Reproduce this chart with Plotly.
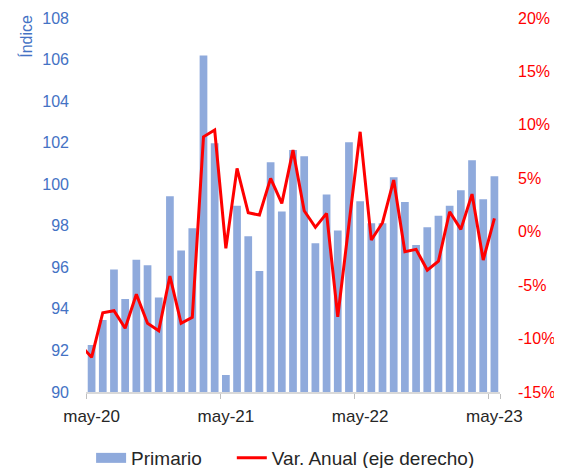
import plotly.graph_objects as go

# Meses (eje de categorías), may-20 a may-23
meses_abbr = ["ene", "feb", "mar", "abr", "may", "jun", "jul", "ago", "sep", "oct", "nov", "dic"]
meses = []
for anio in [20, 21, 22, 23]:
    for m in meses_abbr:
        meses.append(f"{m}-{anio}")
meses = meses[meses.index("may-20"):meses.index("may-23") + 1]

# Índice Primario (eje izquierdo)
primario = [
    92.26, 93.46, 95.90, 94.47, 96.36, 96.10, 94.55, 99.42, 96.81, 97.88,
    106.20, 101.97, 90.82, 98.96, 97.50, 95.82, 101.06, 98.69, 101.65, 101.35,
    97.16, 99.50, 97.77, 102.02, 99.18, 98.12, 98.12, 100.34, 99.15, 97.07,
    97.93, 98.48, 98.96, 99.71, 101.15, 99.28, 100.38,
]

# Variación anual en % (eje derecho); incluye abr-20, que queda fuera del rango
var_meses = ["abr-20"] + meses
var_anual = [
    -10.6,
    -11.75, -7.58, -7.39, -9.04, -5.86, -8.57, -9.26, -4.15, -8.57, -8.01,
    8.88, 9.51, -1.56, 5.93, 1.77, 1.56, 4.99, 2.65, 7.64, 1.96,
    0.41, 1.72, -7.96, 0.70, 9.35, -0.78, 0.84, 4.83, -1.87, -1.65,
    -3.59, -2.75, 1.87, 0.22, 3.52, -2.65, 1.25,
]

ticks_x = ["may-20", "may-21", "may-22", "may-23"]
ticks_izq = [90, 92, 94, 96, 98, 100, 102, 104, 106, 108]
ticks_der = [-15, -10, -5, 0, 5, 10, 15, 20]

azul = "#8FAADC"
rojo = "#FF0000"
fuente = "Liberation Sans"

fig = go.Figure()

fig.add_trace(go.Bar(
    x=meses,
    y=primario,
    name="Primario",
    marker=dict(color=azul, line=dict(width=0)),
    showlegend=False,
))

fig.add_trace(go.Scatter(
    x=var_meses,
    y=var_anual,
    name="Var. Anual (eje derecho)",
    mode="lines",
    line=dict(color=rojo, width=3),
    yaxis="y2",
    showlegend=False,
))

# entradas de leyenda (rectángulo ancho para las barras, como en Excel)
fig.add_trace(go.Scatter(
    x=[None], y=[None], mode="lines", name="Primario",
    line=dict(color=azul, width=10),
    legend="legend",
))
fig.add_trace(go.Scatter(
    x=[None], y=[None], mode="lines", name="Var. Anual (eje derecho)",
    line=dict(color=rojo, width=3),
    legend="legend2",
))

fig.add_annotation(
    text="Índice",
    textangle=-90,
    xref="paper", yref="paper",
    x=-0.147, y=1.013,
    xanchor="center", yanchor="top",
    showarrow=False,
    font=dict(size=16, color="#4472C4", family=fuente),
)

leyenda = dict(
    orientation="h",
    xref="container", yref="container",
    xanchor="left",
    y=0.0217, yanchor="middle",
    font=dict(size=19, color="#262626"),
    bgcolor="rgba(0,0,0,0)",
)

# la página deja 8 px de margen en el body: la figura se dibuja desde (8, 8)
fig.update_layout(
    width=554,
    height=460,
    margin=dict(l=78, r=62, t=10, b=76),
    paper_bgcolor="white",
    plot_bgcolor="white",
    bargap=0.31,
    font=dict(family=fuente, color="#262626"),
    xaxis=dict(
        type="category",
        categoryorder="array",
        categoryarray=var_meses,
        range=[0.5, len(var_meses) - 0.5],
        tickvals=ticks_x,
        ticktext=ticks_x,
        tickangle=0,
        tickson="boundaries",
        ticks="outside",
        ticklen=5,
        tickcolor="#BFBFBF",
        showline=True,
        linecolor="#D9D9D9",
        linewidth=1.5,
        showgrid=False,
        automargin=False,
        ticklabelstandoff=8,
        tickfont=dict(size=17, color="#262626"),
    ),
    yaxis=dict(
        range=[90, 108],
        tickvals=ticks_izq,
        showgrid=False,
        zeroline=False,
        showline=False,
        automargin=False,
        ticklabelstandoff=16,
        tickfont=dict(size=16, color="#4472C4"),
    ),
    yaxis2=dict(
        overlaying="y",
        side="right",
        range=[-15, 20],
        tickvals=ticks_der,
        ticktext=[f"{v}%" for v in ticks_der],
        showgrid=False,
        zeroline=False,
        showline=False,
        automargin=False,
        ticklabelstandoff=17,
        tickfont=dict(size=16, color=rojo),
    ),
    legend=dict(leyenda, x=0.15),
    legend2=dict(leyenda, x=0.404),
)

fig.write_html("out.html")
